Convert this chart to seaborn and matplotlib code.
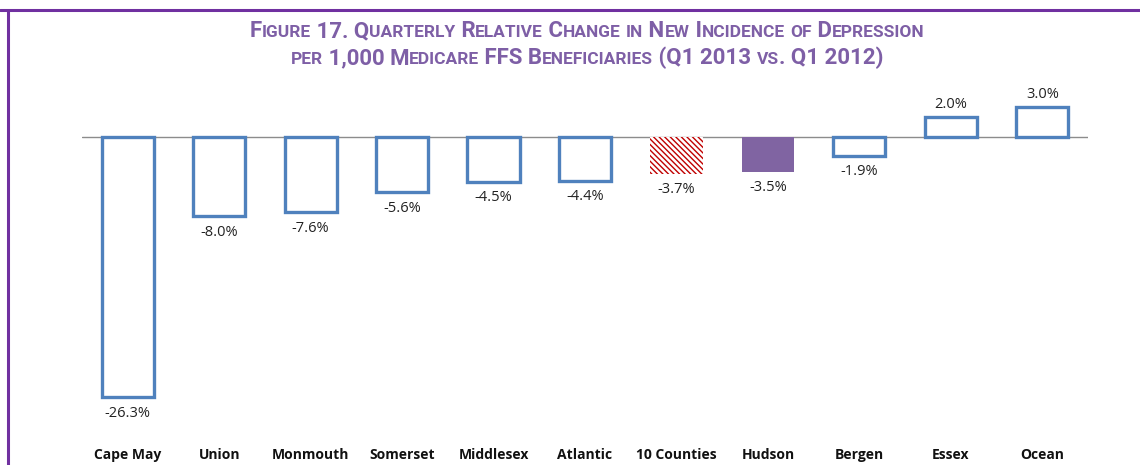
import matplotlib
matplotlib.use('Agg')
import matplotlib.pyplot as plt
import seaborn as sns
from matplotlib.lines import Line2D

counties = ['Cape May', 'Union', 'Monmouth', 'Somerset', 'Middlesex', 'Atlantic',
            '10 Counties', 'Hudson', 'Bergen', 'Essex', 'Ocean']
change = [-26.3, -8.0, -7.6, -5.6, -4.5, -4.4, -3.7, -3.5, -1.9, 2.0, 3.0]
title_lines = ['Figure 17. Quarterly Relative Change in New Incidence of Depression',
               'per 1,000 Medicare FFS Beneficiaries (Q1 2013 vs. Q1 2012)']

sns.set_style('white')
plt.rcParams['font.family'] = ['Open Sans', 'DejaVu Sans']

W, H = 1140, 465
fig = plt.figure(figsize=(W / 100, H / 100), dpi=100)
ax = fig.add_axes([82 / W, 1 - 440 / H, (1088 - 82) / W, (440 - 90) / H])

blue = '#4F81BD'
sns.barplot(x=counties, y=change, color='white', edgecolor=blue, linewidth=2.4,
            width=0.57, ax=ax, saturation=1)

# 10 Counties: red hatched, Hudson: solid purple
p = ax.patches[6]
p.set_facecolor('white')
p.set_edgecolor('#C00000')
p.set_linewidth(0)
p.set_hatch('\\\\\\\\\\\\')
p = ax.patches[7]
p.set_facecolor('#8064A2')
p.set_edgecolor('#8064A2')
p.set_linewidth(0)

ax.axhline(0, color='#8c8c8c', lw=1, zorder=0)
ax.set_xlim(-0.5, 10.5)
ax.set_ylim(-(440 - 137) / 9.9, (137 - 90) / 9.9)

for i, v in enumerate(change):
    if v < 0:
        ax.annotate(f'{v:.1f}%', (i, v), xytext=(0, -6), textcoords='offset points',
                    ha='center', va='top', fontsize=10.5, color='#222222')
    else:
        ax.annotate(f'{v:.1f}%', (i, v), xytext=(0, 4), textcoords='offset points',
                    ha='center', va='bottom', fontsize=10.5, color='#222222')

ax.set_yticks([])
ax.tick_params(axis='x', length=0, pad=6)
for lab in ax.get_xticklabels():
    lab.set_fontweight('bold')
    lab.set_fontsize(10)
    lab.set_color('#111111')
sns.despine(ax=ax, left=True, bottom=True)

# frame lines
fig.add_artist(Line2D([0, 1], [1 - 10 / H, 1 - 10 / H], color='#7030A0', lw=2.2,
                      transform=fig.transFigure))
fig.add_artist(Line2D([8 / W, 8 / W], [0, 1 - 10 / H], color='#7030A0', lw=2.2,
                      transform=fig.transFigure))


# small caps title, built piece by piece
def small_caps(line, y, big=16, small=12.5, color='#7E5FA6'):
    runs = []
    for ch in line:
        is_small = ch.islower()
        if runs and runs[-1][1] == is_small:
            runs[-1][0] += ch
        else:
            runs.append([ch, is_small])
    renderer = fig.canvas.get_renderer()
    texts = []
    x = 0
    for txt, is_small in runs:
        t = fig.text(0, y, txt.upper(), fontsize=small if is_small else big,
                     fontweight='bold', color=color, va='baseline', ha='left',
                     family=['Roboto', 'DejaVu Sans'])
        w = t.get_window_extent(renderer).width
        texts.append((t, x))
        x += w
    x0 = (587 - x / 2)
    for t, off in texts:
        t.set_x((x0 + off) / W)


small_caps(title_lines[0], 1 - 37 / H)
small_caps(title_lines[1], 1 - 64 / H)

fig.savefig('out.png', dpi=100)
